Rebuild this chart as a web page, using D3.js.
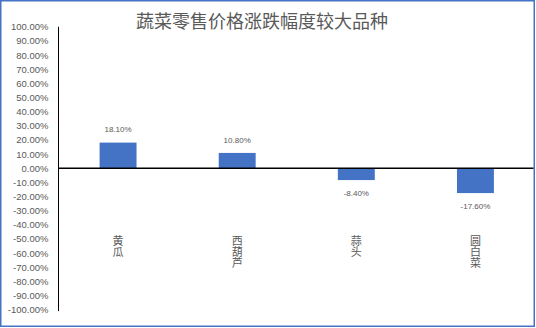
<!DOCTYPE html>
<html>
<head>
<meta charset="utf-8">
<script src="https://cdn.jsdelivr.net/npm/d3@7"></script>
<style>
  html, body { margin: 0; padding: 0; background: #fff; }
  svg { display: block; }
</style>
</head>
<body>
<svg id="chart" width="536" height="328"></svg>
<script>
// Vegetables with the largest retail price changes (percent)
const categories = ["黄瓜", "西葫芦", "蒜头", "圆白菜"];
const changes = [18.1, 10.8, -8.4, -17.6];
const tickValues = [100, 90, 80, 70, 60, 50, 40, 30, 20, 10, 0, -10, -20, -30, -40, -50, -60, -70, -80, -90, -100];
const title = "蔬菜零售价格涨跌幅度较大品种";

const W = 536, H = 328;
const svg = d3.select("#chart");
const textColor = "#595959";
const barColor = "#4472C4";
const font = "'Liberation Sans', 'Noto Sans CJK SC', sans-serif";
const pct = v => (v < 0 ? "-" : "") + d3.format(".2f")(Math.abs(v)) + "%";

// outer frame
svg.append("rect")
  .attr("x", 0.75).attr("y", 0.75)
  .attr("width", W - 2.5).attr("height", H - 2.5)
  .attr("fill", "#fff")
  .attr("stroke", barColor).attr("stroke-width", 1.5);

// title
svg.append("text")
  .attr("x", 262).attr("y", 28)
  .attr("text-anchor", "middle")
  .attr("fill", textColor)
  .style("font-family", "'Noto Sans CJK SC', sans-serif")
  .style("font-size", "18px")
  .text(title);

const x = d3.scaleBand()
  .domain(categories)
  .range([58.5, 535])
  .paddingInner(0.69)
  .paddingOuter(0.345);

const y = d3.scaleLinear()
  .domain([-100, 100])
  .range([309.6, 26.8]);

// vertical axis with percent tick labels
const yAxis = d3.axisLeft(y)
  .tickValues(tickValues)
  .tickSize(0)
  .tickPadding(10)
  .tickFormat(pct);

const gy = svg.append("g")
  .attr("transform", "translate(58.5,0)")
  .call(yAxis);
gy.select(".domain")
  .attr("stroke", "#000").attr("stroke-width", 1)
  .attr("d", `M0,${y(100)}V${y(-100) + 1.5}`);
gy.selectAll(".tick text")
  .attr("fill", textColor)
  .style("font-family", font)
  .style("font-size", "9.5px");

// bars
svg.append("g").selectAll("rect")
  .data(categories)
  .join("rect")
  .attr("x", (d) => x(d))
  .attr("width", x.bandwidth())
  .attr("y", (d, i) => y(Math.max(0, changes[i])))
  .attr("height", (d, i) => Math.abs(y(changes[i]) - y(0)))
  .attr("fill", barColor);

// zero baseline
svg.append("line")
  .attr("x1", 58.5).attr("x2", 533.5)
  .attr("y1", y(0)).attr("y2", y(0))
  .attr("stroke", "#000").attr("stroke-width", 1.5);

// value labels
svg.append("g").selectAll("text")
  .data(categories)
  .join("text")
  .attr("x", d => x(d) + x.bandwidth() / 2)
  .attr("y", (d, i) => y(changes[i]) + (changes[i] >= 0 ? -13 : 13))
  .attr("dy", "0.35em")
  .attr("text-anchor", "middle")
  .attr("fill", textColor)
  .style("font-family", font)
  .style("font-size", "8px")
  .text((d, i) => pct(changes[i]));

// category labels, written vertically
svg.append("g").selectAll("text")
  .data(categories)
  .join("text")
  .attr("x", d => x(d) + x.bandwidth() / 2)
  .attr("y", 235)
  .attr("text-anchor", "start")
  .attr("fill", textColor)
  .style("writing-mode", "vertical-rl")
  .style("font-family", "'Noto Sans CJK SC', sans-serif")
  .style("font-size", "11px")
  .text(d => d);
</script>
</body>
</html>
